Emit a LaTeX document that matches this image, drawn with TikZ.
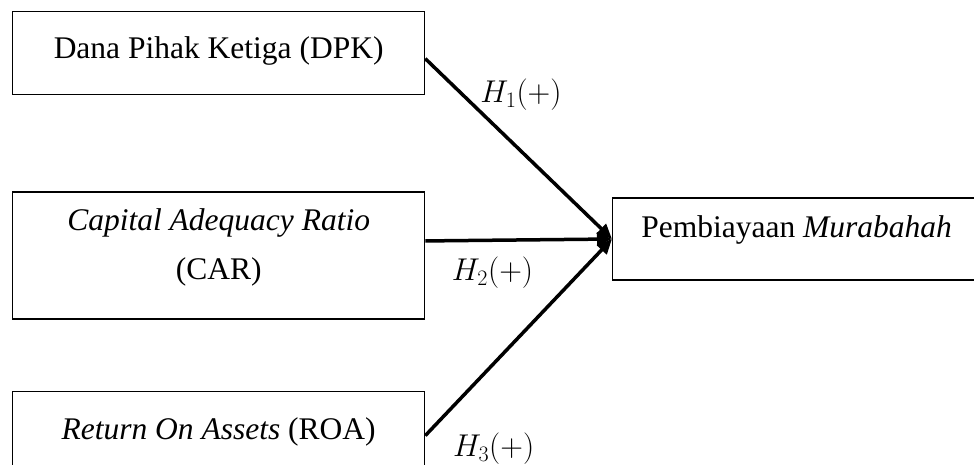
\RequirePackage{fix-cm}
\documentclass[tikz,border=0pt]{standalone}
\usepackage{fontspec}
\setmainfont{Liberation Serif}
\usetikzlibrary{arrows.meta,positioning}

\begin{document}
\begin{tikzpicture}[
		x=1pt, y=-1pt,
		font=\fontsize{31.5}{49}\selectfont,
		kotak/.style={draw, line width=1.3pt, inner sep=0pt, minimum width=412pt, align=center},
		panah/.style={line width=3.5pt, -{Triangle[length=15pt,width=13pt]}},
		hipotesis/.style={inner sep=0pt},
		]
		\path[use as bounding box, clip] (0,0) rectangle (974,465);
		
		\node[kotak, anchor=north west, text height=47pt, text depth=36pt] (dpk) at (12,11) {Dana Pihak Ketiga (DPK)};
		\node[kotak, below=96pt of dpk, text height=88pt, text depth=39pt] (car) {\textit{Capital Adequacy Ratio}\\(CAR)};
		\node[kotak, below=71pt of car, text height=48pt, text depth=72pt] (roa) {\textit{Return On Assets} (ROA)};
		\node[kotak, anchor=west, minimum width=368pt, text height=39pt, text depth=43pt] (mrb) at (612,239) {Pembiayaan \textit{Murabahah}};
		
		\draw[panah] ([yshift=-5.5pt]dpk.east) -- node[hipotesis, pos=0.2, anchor=west, xshift=16pt] {$H_1(+)$} (mrb.west);
		\draw[panah] ([yshift=14.5pt]car.east) -- node[hipotesis, pos=0.36, anchor=north, yshift=-15pt] {$H_2(+)$} (mrb.west);
		\draw[panah] ([yshift=-45pt]roa.north east) -- node[hipotesis, pos=0, anchor=north west, xshift=26pt, yshift=4pt] {$H_3(+)$} (mrb.west);
		
	\end{tikzpicture}
\end{document}
